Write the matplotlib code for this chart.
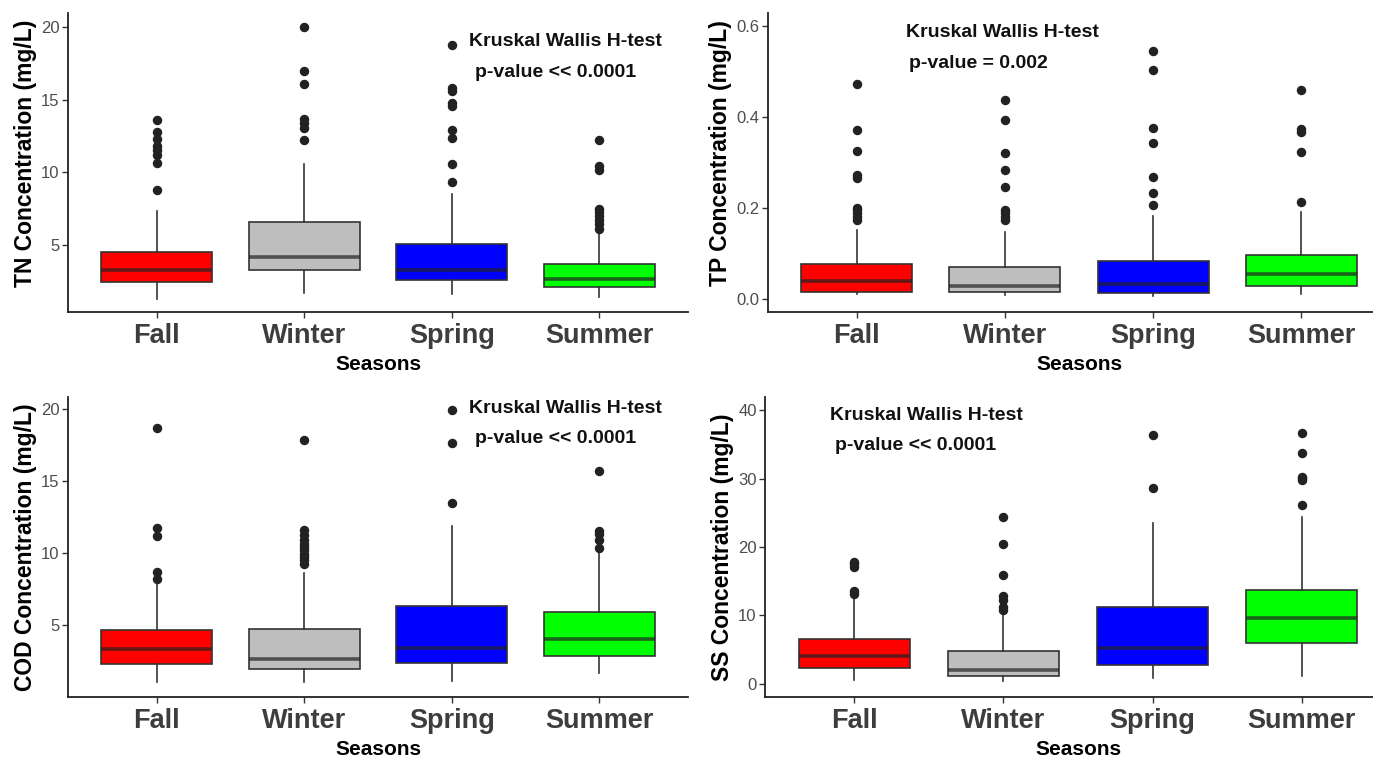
import matplotlib
matplotlib.use('Agg')
import matplotlib.pyplot as plt

plt.rcParams['font.family'] = ['Liberation Sans', 'DejaVu Sans']

seasons = ['Fall', 'Winter', 'Spring', 'Summer']
box_colors = ['#ff0000', '#bebebe', '#0000ff', '#00ff00']

# TN (mg/L)
tn_lo = [1.28, 1.67, 1.57, 1.39]
tn_q1 = [2.43, 3.23, 2.54, 2.08]
tn_med = [3.28, 4.15, 3.28, 2.66]
tn_q3 = [4.49, 6.60, 5.02, 3.69]
tn_hi = [7.30, 10.54, 8.52, 6.00]
tn_out = [
    [8.8, 10.65, 11.2, 11.5, 11.8, 12.3, 12.8, 13.6],
    [12.24, 13.05, 13.4, 13.7, 16.1, 16.98, 20.0],
    [9.3, 10.6, 12.33, 12.93, 14.54, 14.77, 15.6, 15.83, 18.75],
    [6.1, 6.4, 6.68, 7.0, 7.25, 7.48, 10.13, 10.4, 12.24],
]

# TP (mg/L)
tp_lo = [0.011, 0.009, 0.007, 0.010]
tp_q1 = [0.016, 0.016, 0.0125, 0.028]
tp_med = [0.040, 0.029, 0.033, 0.055]
tp_q3 = [0.077, 0.071, 0.083, 0.096]
tp_hi = [0.151, 0.146, 0.182, 0.191]
tp_out = [
    [0.173, 0.180, 0.188, 0.195, 0.199, 0.265, 0.272, 0.326, 0.372, 0.473],
    [0.173, 0.180, 0.188, 0.195, 0.247, 0.283, 0.320, 0.394, 0.437],
    [0.206, 0.233, 0.269, 0.342, 0.375, 0.504, 0.545],
    [0.213, 0.324, 0.368, 0.373, 0.459],
]

# COD (mg/L)
cod_lo = [1.00, 1.00, 1.06, 1.64]
cod_q1 = [2.25, 1.90, 2.36, 2.85]
cod_med = [3.31, 2.64, 3.40, 3.98]
cod_q3 = [4.61, 4.70, 6.30, 5.86]
cod_hi = [7.96, 8.59, 11.85, 9.98]
cod_out = [
    [8.19, 8.66, 11.13, 11.74, 18.68],
    [9.24, 9.47, 9.70, 9.93, 10.16, 10.39, 10.6, 10.9, 11.2, 11.55, 17.8],
    [13.45, 17.6, 19.88],
    [10.35, 10.9, 11.27, 11.5, 15.67],
]

# SS (mg/L)
ss_lo = [0.59, 0.34, 0.83, 1.07]
ss_q1 = [2.29, 1.07, 2.68, 5.95]
ss_med = [4.05, 1.95, 5.27, 9.66]
ss_q3 = [6.59, 4.73, 11.22, 13.66]
ss_hi = [12.7, 10.2, 23.5, 24.4]
ss_out = [
    [13.17, 13.56, 17.07, 17.56, 17.8],
    [10.73, 11.2, 12.2, 12.78, 15.85, 20.5, 24.4],
    [28.7, 36.4],
    [26.2, 29.76, 30.15, 30.3, 33.76, 36.7],
]

panels = [
    dict(rect=[68 / 1373, 1 - 312 / 759, 620 / 1373, 299 / 759],
         data=(tn_lo, tn_q1, tn_med, tn_q3, tn_hi, tn_out),
         ylabel='TN Concentration (mg/L)', ylim=(0.36, 20.98), yticks=[5, 10, 15, 20],
         fmt='{:g}', note=('Kruskal Wallis H-test', 'p-value << 0.0001'),
         note_xy=[(3.77, 19.0), (3.70, 16.9)], label_y=0.53),
    dict(rect=[768 / 1373, 1 - 312 / 759, 622 / 1373, 299 / 759],
         data=(tp_lo, tp_q1, tp_med, tp_q3, tp_hi, tp_out),
         ylabel='TP Concentration (mg/L)', ylim=(-0.029, 0.629), yticks=[0.0, 0.2, 0.4, 0.6],
         fmt='{:.1f}', note=('Kruskal Wallis H-test', 'p-value = 0.002'),
         note_xy=[(1.98, 0.585), (1.82, 0.518)], label_y=0.53),
    dict(rect=[68 / 1373, 1 - 697 / 759, 620 / 1373, 300 / 759],
         data=(cod_lo, cod_q1, cod_med, cod_q3, cod_hi, cod_out),
         ylabel='COD Concentration (mg/L)', ylim=(-0.02, 20.81), yticks=[5, 10, 15, 20],
         fmt='{:g}', note=('Kruskal Wallis H-test', 'p-value << 0.0001'),
         note_xy=[(3.77, 20.0), (3.70, 17.9)], label_y=0.5),
    dict(rect=[765 / 1373, 1 - 697 / 759, 626 / 1373, 300 / 759],
         data=(ss_lo, ss_q1, ss_med, ss_q3, ss_hi, ss_out),
         ylabel='SS Concentration (mg/L)', ylim=(-1.95, 41.95), yticks=[0, 10, 20, 30, 40],
         fmt='{:g}', note=('Kruskal Wallis H-test', 'p-value << 0.0001'),
         note_xy=[(1.48, 39.3), (1.41, 34.8)], label_y=0.5),
]

fig = plt.figure(figsize=(13.73, 7.59), dpi=100)

for p in panels:
    ax = fig.add_axes(p['rect'])
    lo, q1, med, q3, hi, out = p['data']
    stats = []
    for i in range(len(seasons)):
        stats.append(dict(whislo=lo[i], q1=q1[i], med=med[i], q3=q3[i],
                          whishi=hi[i], fliers=out[i], label=seasons[i]))
    bp = ax.bxp(stats, positions=[1, 2, 3, 4], widths=0.75, patch_artist=True,
                showcaps=False,
                boxprops=dict(edgecolor='#333333', linewidth=1.2),
                whiskerprops=dict(color='#333333', linewidth=1.2),
                medianprops=dict(color='#222222', linewidth=2.6, alpha=0.7),
                flierprops=dict(marker='o', markerfacecolor='#222222',
                                markeredgecolor='#222222', markersize=5.8))
    for patch, c in zip(bp['boxes'], box_colors):
        patch.set_facecolor(c)

    ax.set_xlim(0.4, 4.6)
    ax.set_ylim(*p['ylim'])
    ax.set_yticks(p['yticks'])
    ax.set_yticklabels([p['fmt'].format(v) for v in p['yticks']])
    ax.set_xticks([1, 2, 3, 4])
    ax.set_xticklabels(seasons)

    for s in ['top', 'right']:
        ax.spines[s].set_visible(False)
    for s in ['left', 'bottom']:
        ax.spines[s].set_color('#222222')
        ax.spines[s].set_linewidth(1.3)

    ax.tick_params(axis='y', length=4, width=1, color='#333333',
                   labelsize=12, labelcolor='#4d4d4d', pad=2)
    ax.tick_params(axis='x', length=4, width=1, color='#333333',
                   labelsize=19.5, labelcolor='#3d3d3d', pad=4)
    for lab in ax.get_xticklabels():
        lab.set_fontweight('bold')

    ax.set_ylabel(p['ylabel'], fontsize=16.5, fontweight='bold', labelpad=3)
    ax.yaxis.label.set_y(p['label_y'])
    ax.set_xlabel('Seasons', fontsize=15, fontweight='bold', labelpad=4)

    for txt, (tx, ty) in zip(p['note'], p['note_xy']):
        ax.text(tx, ty, txt, ha='center', va='center', fontsize=14,
                fontweight='bold', color='#111111')

fig.savefig('out.png', dpi=100)
